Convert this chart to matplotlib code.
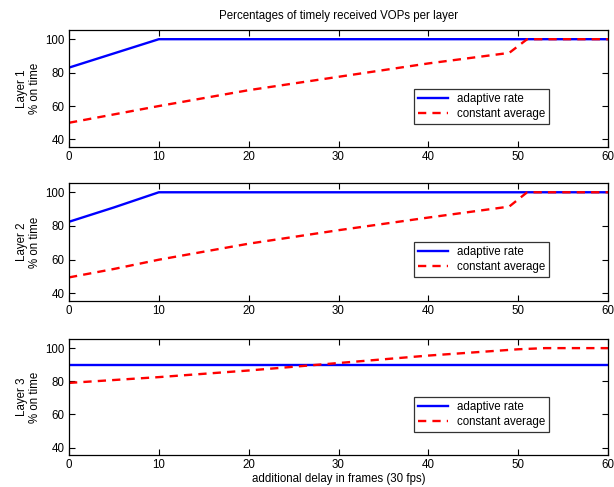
import matplotlib
matplotlib.use("Agg")
import matplotlib.pyplot as plt

plt.rcParams['font.family'] = ['Liberation Sans', 'DejaVu Sans']

# Data
delay = [0, 5, 10, 20, 30, 40, 49, 51, 60]

l1_adaptive = [83, 91.5, 100, 100, 100, 100, 100, 100, 100]
l1_constant = [50, 55, 60, 69.5, 77.5, 85.5, 91.8, 100, 100]

l2_adaptive = [82.5, 91, 100, 100, 100, 100, 100, 100, 100]
l2_constant = [49.5, 54.5, 60, 69.5, 77.5, 85, 91.5, 100, 100]

delay3 = [0, 10, 20, 30, 40, 50, 53, 60]
l3_adaptive = [90, 90, 90, 90, 90, 90, 90, 90]
l3_constant = [79, 82.5, 86.5, 91, 95.5, 99.3, 100, 100]

layer_labels = ["Layer 1\n% on time", "Layer 2\n% on time", "Layer 3\n% on time"]
series_names = ["adaptive rate", "constant average"]
title = "Percentages of timely received VOPs per layer"
xlabel = "additional delay in frames (30 fps)"
xticks = [0, 10, 20, 30, 40, 50, 60]
yticks = [40, 60, 80, 100]

panels = [
    (delay, l1_adaptive, delay, l1_constant),
    (delay, l2_adaptive, delay, l2_constant),
    (delay3, l3_adaptive, delay3, l3_constant),
]

W, H = 614, 487
fig = plt.figure(figsize=(W / 100, H / 100), dpi=100)

left, right = 69, 608
boxes = [(30, 147), (183, 301), (339, 455)]

fs = 8.3
for i, ((xa, ya, xc, yc), (top, bot)) in enumerate(zip(panels, boxes)):
    ax = fig.add_axes([left / W, 1 - bot / H, (right - left) / W, (bot - top) / H])
    ax.plot(xa, ya, color='#0000ff', lw=1.7, label=series_names[0])
    ax.plot(xc, yc, color='#ff0000', lw=1.7, ls=(0, (3.5, 2.6)), label=series_names[1])
    ax.set_xlim(0, 60)
    ax.set_ylim(35.5, 105.5)
    ax.set_xticks(xticks)
    ax.set_yticks(yticks)
    ax.tick_params(direction='in', top=True, right=True, length=4, width=0.8,
                   labelsize=fs, pad=3)
    for s in ax.spines.values():
        s.set_linewidth(0.9)
    ax.set_ylabel(layer_labels[i], fontsize=fs, linespacing=1.1, labelpad=3)
    leg = ax.legend(loc='lower left', bbox_to_anchor=(0.64, 0.2), fontsize=fs,
                    frameon=True, fancybox=False, edgecolor='black',
                    borderpad=0.35, handlelength=2.6, labelspacing=0.25,
                    handletextpad=0.8, borderaxespad=0)
    leg.get_frame().set_linewidth(0.9)
    if i == 0:
        ax.set_title(title, fontsize=fs, pad=8)
    if i == 2:
        ax.set_xlabel(xlabel, fontsize=fs, labelpad=1)

fig.savefig("out.png", dpi=100)
